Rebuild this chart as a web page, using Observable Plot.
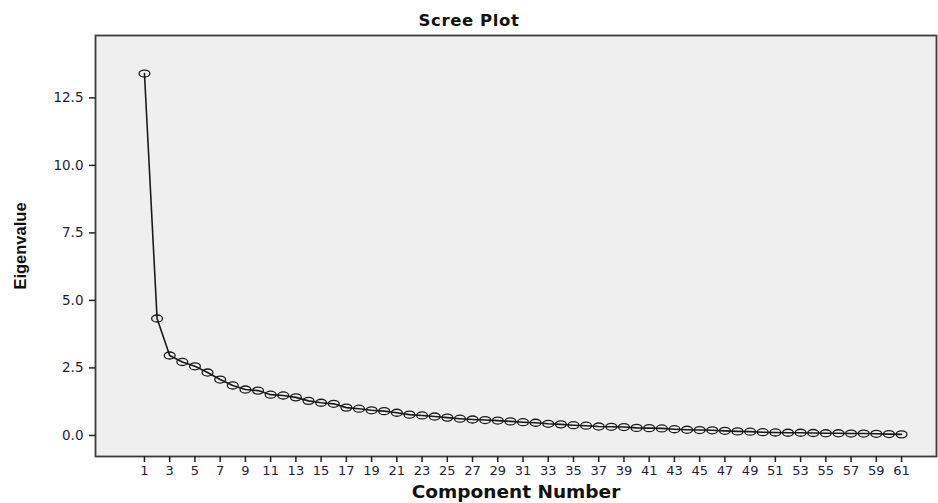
<!DOCTYPE html>
<html><head><meta charset="utf-8">
<script src="https://cdn.jsdelivr.net/npm/d3@7"></script>
<script src="https://cdn.jsdelivr.net/npm/@observablehq/plot@0.6"></script>
<style>
html,body{margin:0;padding:0;background:#fff;}
body{width:938px;height:503px;overflow:hidden;font-family:"DejaVu Sans",sans-serif;}
#title{box-sizing:border-box;height:30px;padding-top:13px;line-height:1;text-align:center;font-weight:bold;font-size:16.5px;color:#111;letter-spacing:0.6px;}
#chart svg{display:block;}
</style></head><body>
<div id="title">Scree Plot</div>
<div id="chart"></div>
<script>
const components = [1,2,3,4,5,6,7,8,9,10,11,12,13,14,15,16,17,18,19,20,21,22,23,24,25,26,27,28,29,30,31,32,33,34,35,36,37,38,39,40,41,42,43,44,45,46,47,48,49,50,51,52,53,54,55,56,57,58,59,60,61];
const eigenvalues = [13.40,4.33,2.96,2.72,2.56,2.33,2.07,1.85,1.70,1.66,
  1.51,1.48,1.41,1.28,1.21,1.17,1.03,0.99,0.93,0.90,
  0.84,0.77,0.74,0.70,0.66,0.62,0.59,0.57,0.55,0.52,
  0.49,0.47,0.43,0.41,0.38,0.36,0.33,0.32,0.31,0.28,
  0.27,0.26,0.23,0.21,0.20,0.19,0.17,0.15,0.14,0.12,
  0.11,0.10,0.10,0.09,0.08,0.08,0.07,0.07,0.06,0.05,0.04];
const xTicks = [1,3,5,7,9,11,13,15,17,19,21,23,25,27,29,31,33,35,37,39,41,43,45,47,49,51,53,55,57,59,61];
const yTicks = [0,2.5,5,7.5,10,12.5];
const xLabel = "Component Number";
const yLabel = "Eigenvalue";

const data = components.map((c, i) => ({component: c, eigenvalue: eigenvalues[i]}));

const ellipse = {
  draw(ctx, size) {
    const r = Math.sqrt(size / Math.PI);
    const rx = r * 1.2, ry = r * 0.78, k = 0.5523;
    ctx.moveTo(rx, 0);
    ctx.bezierCurveTo(rx, ry * k, rx * k, ry, 0, ry);
    ctx.bezierCurveTo(-rx * k, ry, -rx, ry * k, -rx, 0);
    ctx.bezierCurveTo(-rx, -ry * k, -rx * k, -ry, 0, -ry);
    ctx.bezierCurveTo(rx * k, -ry, rx, -ry * k, rx, 0);
    ctx.closePath();
  }
};

const textColor = "#1e1e3c";

const chart = Plot.plot({
  width: 938,
  height: 473,
  marginTop: 5,
  marginLeft: 95,
  marginRight: 2,
  marginBottom: 47,
  style: {fontFamily: "'DejaVu Sans', sans-serif", background: "#fff", overflow: "visible"},
  x: {domain: [-2.88, 63.77]},
  y: {domain: [-0.78, 14.81]},
  marks: [
    Plot.frame({fill: "#efefef", stroke: "none"}),
    Plot.line(data, {x: "component", y: "eigenvalue", stroke: "#1a1a1a", strokeWidth: 1.6}),
    Plot.dot(data, {x: "component", y: "eigenvalue", r: 4.5, symbol: ellipse, stroke: "#1a1a1a", strokeWidth: 1.3, fill: "none"}),
    Plot.frame({stroke: "#3c3c3c", strokeWidth: 1.8}),
    Plot.axisY({ticks: yTicks, tickFormat: d3.format(".1f"), tickSize: 6, tickPadding: 6, label: null,
      fontSize: 13.5, color: textColor, stroke: "#222", strokeWidth: 1.5, letterSpacing: "1.2px"}),
    Plot.axisX({ticks: xTicks, tickFormat: d3.format("d"), tickSize: 6, tickPadding: 3, label: null,
      fontSize: 13, color: textColor, stroke: "#222", strokeWidth: 1.5, letterSpacing: "0.8px"}),
    Plot.text([xLabel], {frameAnchor: "bottom", dy: 41, text: d => d, fontSize: 18.5, fontWeight: "bold", fill: "#111", letterSpacing: "1.5px"}),
    Plot.text([yLabel], {frameAnchor: "left", dx: -75, textAnchor: "middle", text: d => d, rotate: -90, fontSize: 16.5, fontWeight: "bold", fill: "#111",
      fontFamily: "'Liberation Sans', Arial, sans-serif"})
  ]
});
document.getElementById("chart").appendChild(chart);
</script>
</body></html>
